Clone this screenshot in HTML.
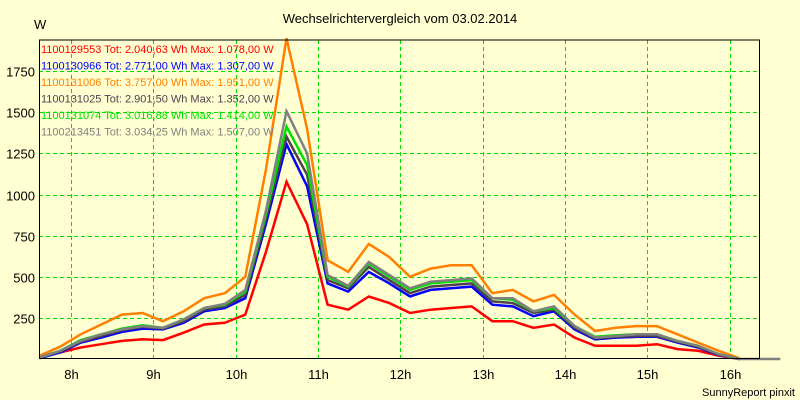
<!DOCTYPE html>
<html><head><meta charset="utf-8"><style>
body{margin:0;background:#ffffd2;}
svg{display:block;font-family:"Liberation Sans",sans-serif;}
</style></head><body>
<svg id="chart" width="800" height="400" viewBox="0 0 800 400">
<rect x="0" y="0" width="800" height="400" fill="#ffffd2"/>
<text x="400" y="23" text-anchor="middle" font-size="13" fill="#000">Wechselrichtervergleich vom 03.02.2014</text>
<text x="34" y="29" font-size="13" fill="#000">W</text>
<text x="795" y="396" text-anchor="end" font-size="11" fill="#000">SunnyReport pinxit</text>
<g id="grid"></g><g id="axes"></g><g id="series"></g><g id="legend"></g>
<line x1="39" y1="40" x2="760" y2="40" stroke="#000"/>
<line x1="39.5" y1="40" x2="39.5" y2="359" stroke="#000"/>
<line x1="759.5" y1="40" x2="759.5" y2="359" stroke="#000"/>
<line x1="39" y1="358.5" x2="760" y2="358.5" stroke="#000"/>
</svg>
<script>
const startHour = 7.617, stepHour = 0.25;
const yTicks = [250,500,750,1000,1250,1500,1750];
const xTicks = [8,9,10,11,12,13,14,15,16];
const xTickLabels = ["8h","9h","10h","11h","12h","13h","14h","15h","16h"];
const seriesNames = ["1100129553 Tot: 2.040,63 Wh Max: 1.078,00 W","1100130966 Tot: 2.771,00 Wh Max: 1.307,00 W","1100131006 Tot: 3.757,00 Wh Max: 1.951,00 W","1100131025 Tot: 2.901,50 Wh Max: 1.352,00 W","1100131074 Tot: 3.016,88 Wh Max: 1.414,00 W","1100213451 Tot: 3.034,25 Wh Max: 1.507,00 W"];
const seriesColors = ["#ff0000","#0000ff","#ff8000","#504050","#00e000","#808080"];
const red = [10,40,70,90,110,120,115,160,210,220,270,650,1078,820,330,300,380,340,280,300,310,320,230,230,190,210,130,80,80,80,90,60,50,20,0];
const blue = [5,40,100,130,165,185,180,220,290,310,370,820,1307,1050,460,410,530,460,380,420,430,440,330,320,260,290,180,120,130,135,135,100,70,25,0];
const orange = [20,75,150,210,270,280,230,290,370,400,500,1150,1951,1400,600,530,700,620,500,550,570,570,400,420,350,390,270,170,190,200,200,150,100,50,5];
const dark = [8,45,105,140,175,195,185,230,300,320,390,850,1352,1120,480,430,560,480,400,440,450,460,350,340,280,300,190,125,135,140,140,105,75,28,0];
const green = [10,50,115,150,185,205,190,240,310,330,410,880,1414,1180,500,440,580,500,420,460,470,480,370,360,290,310,200,135,145,150,150,110,80,30,0];
const grey = [10,50,110,150,180,200,190,240,310,335,420,900,1507,1250,510,445,590,510,430,470,480,490,370,370,290,320,200,130,140,150,150,110,80,30,0,0,0];
const allSeries = [red,blue,orange,dark,green,grey];

const NS="http://www.w3.org/2000/svg";
const X0=39,X1=760,Y0=359,Y1=40,H0=7.61,H1=16.37,VMAX=1940;
const xs=h=>X0+(h-H0)/(H1-H0)*(X1-X0);
const ys=v=>Y0-v/VMAX*(Y0-Y1);
function mk(tag,parent,attrs){const e=document.createElementNS(NS,tag);for(const k in attrs)e.setAttribute(k,attrs[k]);parent.appendChild(e);return e;}
const grid=document.getElementById('grid'),axes=document.getElementById('axes'),ser=document.getElementById('series'),leg=document.getElementById('legend');
yTicks.forEach(v=>{
  const y=Math.round(ys(v))+0.5;
  const l=mk('line',grid,{x1:X0,x2:X1,y1:y,y2:y,stroke:'#00e000','stroke-dasharray':'4,3'});
  
  
  const t=mk('text',axes,{x:35,y:y+5,'text-anchor':'end','font-size':'13',fill:'#000'});
  t.textContent=v;
  
  
});
xTicks.forEach((h,i)=>{
  const x=Math.round(xs(h))+0.5;
  const l=mk('line',grid,{x1:x,x2:x,y1:Y1,y2:Y0,stroke:'#00e000','stroke-dasharray':'4,3'});
  
  
  const t=mk('text',axes,{x:x,y:379,'text-anchor':'middle','font-size':'13',fill:'#000'});
  t.textContent=xTickLabels[i];
  
  
});
allSeries.forEach((arr,i)=>{
  const pts=arr.map((v,k)=>xs(startHour+k*stepHour).toFixed(1)+','+ys(v).toFixed(1)).join(' ');
  const p=mk('polyline',ser,{points:pts,fill:'none',stroke:seriesColors[i],'stroke-width':'2.5','stroke-linejoin':'miter'});
  
  
});
seriesNames.forEach((n,i)=>{
  const t=mk('text',leg,{x:41,y:53+i*16.5,'font-size':'11',fill:seriesColors[i]});
  t.textContent=n;
  
  
});
</script>
</body></html>
